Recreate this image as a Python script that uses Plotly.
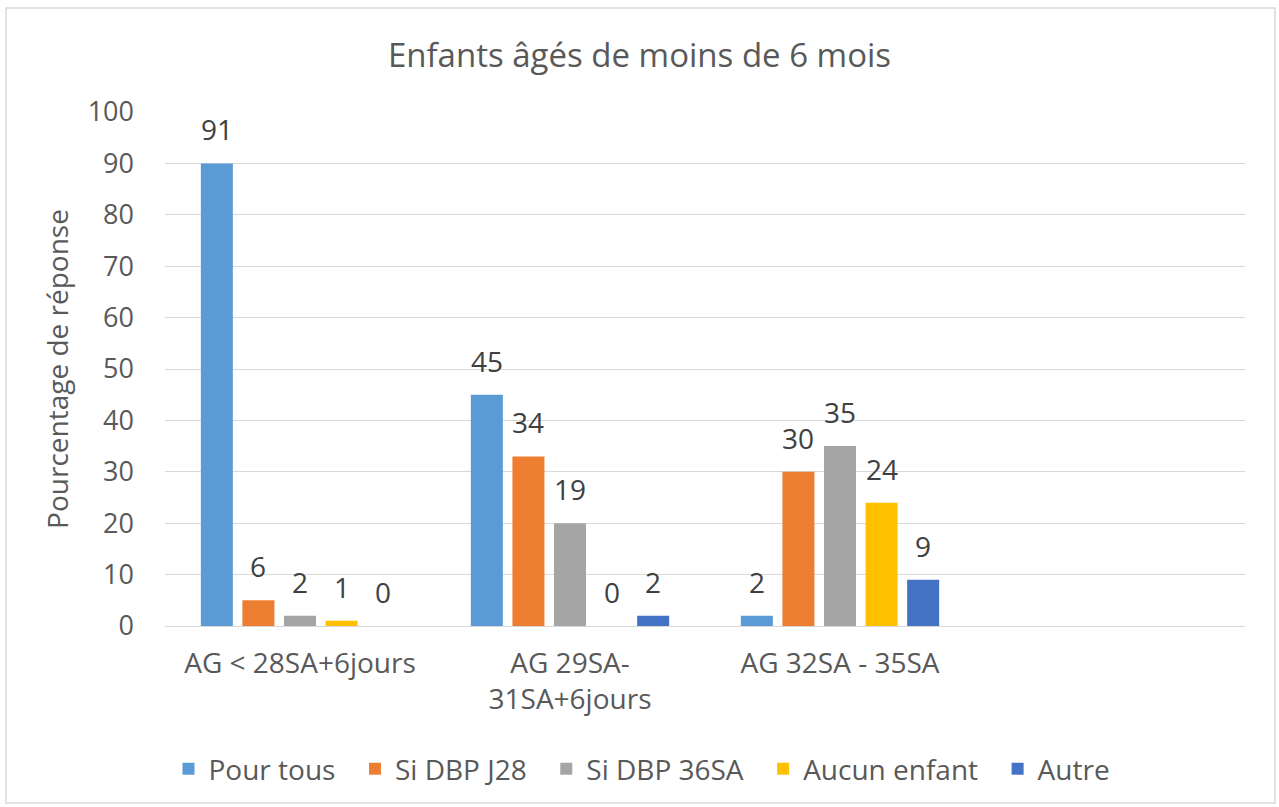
import plotly.graph_objects as go

categories = ["AG < 28SA+6jours", "AG 29SA-<br>31SA+6jours", "AG 32SA - 35SA", " "]
series_names = ["Pour tous", "Si DBP J28", "Si DBP 36SA", "Aucun enfant", "Autre"]
colors = ["#5B9BD5", "#ED7D31", "#A5A5A5", "#FFC000", "#4472C4"]

# bar heights as drawn
pour_tous = [90, 45, 2, None]
si_dbp_j28 = [5, 33, 30, None]
si_dbp_36sa = [2, 20, 35, None]
aucun_enfant = [1, 0, 24, None]
autre = [0, 2, 9, None]

# data label texts as printed
lbl_pour_tous = ["91", "45", "2", ""]
lbl_si_dbp_j28 = ["6", "34", "30", ""]
lbl_si_dbp_36sa = ["2", "19", "35", ""]
lbl_aucun_enfant = ["1", "0", "24", ""]
lbl_autre = ["0", "2", "9", ""]

values = [pour_tous, si_dbp_j28, si_dbp_36sa, aucun_enfant, autre]
labels = [lbl_pour_tous, lbl_si_dbp_j28, lbl_si_dbp_36sa, lbl_aucun_enfant, lbl_autre]

FONT = "Open Sans"
FS = 28
W, H = 1279, 807
L, R, T, B = 165, 34, 112, 181
pw, ph = W - L - R, H - T - B
bargap = 0.23

fig = go.Figure()
for name, col, vals in zip(series_names, colors, values):
    fig.add_trace(go.Bar(name=name + "\u00a0\u00a0", x=categories, y=vals,
                         marker_color=col, marker_line_width=0))

# data labels as annotations (offset within group computed from bar layout)
ncat = len(categories)
slot_px = pw / ncat * (1 - bargap) / len(series_names)
for j, (vals, lbls) in enumerate(zip(values, labels)):
    for i, (v, t) in enumerate(zip(vals, lbls)):
        if v is None:
            continue
        fig.add_annotation(x=categories[i], y=v, text=t, showarrow=False,
                           xshift=(j - (len(series_names) - 1) / 2) * slot_px,
                           yshift=13, yanchor="bottom",
                           font=dict(family=FONT, size=FS, color="#404040"))

# chart border
def px_x(p):
    return (p - L) / pw
def px_y(p):
    return (H - B - p) / ph
fig.add_shape(type="rect", xref="paper", yref="paper",
              x0=px_x(6), x1=px_x(1275), y0=px_y(803), y1=px_y(8),
              line=dict(color="#D9D9D9", width=1.5), layer="below")

fig.update_layout(
    width=W, height=H,
    margin=dict(l=L, r=R, t=T, b=B),
    paper_bgcolor="white", plot_bgcolor="white",
    barmode="group", bargap=bargap, bargroupgap=0.23,
    title=dict(text="Enfants âgés de moins de 6 mois", x=0.5, xanchor="center",
               y=1 - 55 / H, yanchor="middle",
               font=dict(family=FONT, size=33, color="#595959")),
    legend=dict(orientation="h", x=px_x(649), xanchor="center",
                y=px_y(769), yanchor="middle",
                font=dict(family=FONT, size=FS, color="#595959"),
                itemsizing="constant", traceorder="normal"),
    font=dict(family=FONT, color="#595959"),
)
fig.update_yaxes(range=[0, 100], dtick=10, showgrid=True, gridcolor="#D9D9D9",
                 gridwidth=1, zeroline=False, showline=False,
                 tickfont=dict(family=FONT, size=27, color="#595959"),
                 ticklabelstandoff=30,
                 title=dict(text="Pourcentage de réponse", standoff=10,
                            font=dict(family=FONT, size=FS, color="#595959")))
fig.update_xaxes(showline=True, linecolor="#D9D9D9", linewidth=1,
                 tickfont=dict(family=FONT, size=FS, color="#595959"),
                 ticklabelstandoff=12, ticks="")

fig.write_html("out.html", config={"displayModeBar": False},
               post_script="document.body.style.margin='0px';")
